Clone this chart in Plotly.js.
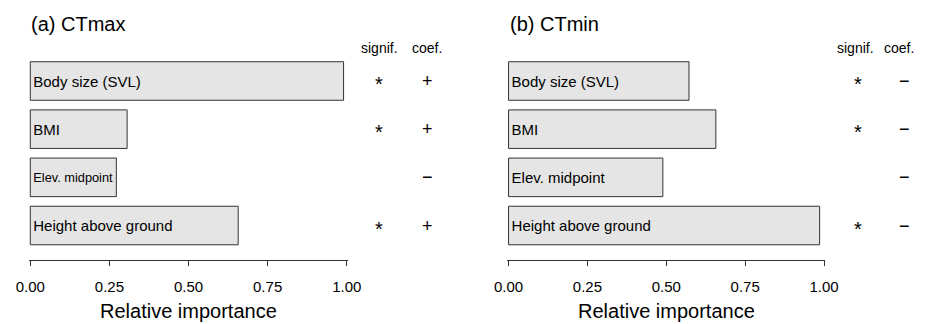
<!DOCTYPE html>
<html>
<head>
<meta charset="utf-8">
<script src="https://cdn.plot.ly/plotly-3.0.1.min.js"></script>
<style>html,body{margin:0;padding:0;background:#fff;}#chart{width:930px;height:324px;}</style>
</head>
<body>
<div id="chart"></div>
<script>
const categories = ["Body size (SVL)", "BMI", "Elev. midpoint", "Height above ground"];
const ctmaxImportance = [0.99, 0.306, 0.272, 0.657];
const ctminImportance = [0.572, 0.657, 0.489, 0.986];
const ctmaxSignif = ["*", "*", "", "*"];
const ctmaxCoef = ["+", "+", "\u2212", "+"];
const ctminSignif = ["*", "*", "", "*"];
const ctminCoef = ["\u2212", "\u2212", "\u2212", "\u2212"];
const tickVals = [0, 0.25, 0.5, 0.75, 1];
const tickText = ["0.00", "0.25", "0.50", "0.75", "1.00"];
const panelTitles = ["(a) CTmax", "(b) CTmin"];
const headers = ["signif.", "coef."];
const xTitle = "Relative importance";

const FONT = "Liberation Sans, Arial, Helvetica, sans-serif";
const barStyle = {
  type: "bar", orientation: "h", width: 0.8,
  marker: {color: "#e5e5e5", line: {color: "#333333", width: 1}},
  textposition: "inside", insidetextanchor: "start", textangle: 0,
  insidetextfont: {family: FONT, size: 15, color: "#000"},
  hoverinfo: "none", showlegend: false
};

const traces = [
  Object.assign({}, barStyle, {x: ctmaxImportance, y: categories, text: categories, xaxis: "x", yaxis: "y"}),
  Object.assign({}, barStyle, {x: ctminImportance, y: categories, text: categories, xaxis: "x2", yaxis: "y2"})
];

const W = 930, H = 324;
const axisY = 260;
const spacing = 48.17, firstCenter = 81;
const yTop = -firstCenter / spacing;
const yBottom = yTop + axisY / spacing;
const yDomain = [1 - axisY / H, 1];

function xAxis(domain, anchor) {
  return {
    domain: domain, anchor: anchor, range: [-0.004, 1.004], fixedrange: true,
    showline: true, linecolor: "#333", linewidth: 1,
    ticks: "outside", ticklen: 5, tickcolor: "#333", tickwidth: 1,
    tickvals: tickVals, ticktext: tickText, ticklabelstandoff: 8,
    tickfont: {family: FONT, size: 15, color: "#000"},
    showgrid: false, zeroline: false
  };
}
function yAxis(anchor) {
  return {
    domain: yDomain, anchor: anchor, type: "category", range: [yBottom, yTop],
    showline: false, showticklabels: false, ticks: "", showgrid: false, zeroline: false, fixedrange: true
  };
}

const leftDom = [29 / W, 348 / W];
const rightDom = [507.3 / W, 825.3 / W];

const annotations = [];
function panelAnn(title, titleX, dom, hdrX, signifX, coefX, signif, coef, yref) {
  annotations.push({xref: "paper", yref: "paper", x: titleX, y: 1 - 24 / H, xanchor: "left", yanchor: "middle",
    text: title, showarrow: false, font: {family: FONT, size: 20, color: "#000"}});
  annotations.push({xref: "paper", yref: "paper", x: (dom[0] + dom[1]) / 2, y: 1 - 311 / H, xanchor: "center", yanchor: "middle",
    text: xTitle, showarrow: false, font: {family: FONT, size: 20, color: "#000"}});
  annotations.push({xref: "paper", yref: "paper", x: hdrX[0], y: 1 - 48 / H, xanchor: "center", yanchor: "middle",
    text: headers[0], showarrow: false, font: {family: FONT, size: 14, color: "#000"}});
  annotations.push({xref: "paper", yref: "paper", x: hdrX[1], y: 1 - 48 / H, xanchor: "center", yanchor: "middle",
    text: headers[1], showarrow: false, font: {family: FONT, size: 14, color: "#000"}});
  categories.forEach((c, i) => {
    if (signif[i]) annotations.push({xref: "paper", yref: yref, x: signifX, y: c, xanchor: "center", yanchor: "middle",
      text: signif[i], showarrow: false, yshift: -3, font: {family: FONT, size: 20, color: "#000"}});
    if (coef[i]) annotations.push({xref: "paper", yref: yref, x: coefX, y: c, xanchor: "center", yanchor: "middle",
      text: coef[i], showarrow: false, font: {family: FONT, size: 18, color: "#000"}});
  });
}
panelAnn(panelTitles[0], 29 / W, leftDom, [379 / W, 427 / W], 379 / W, 427 / W, ctmaxSignif, ctmaxCoef, "y");
panelAnn(panelTitles[1], 507.5 / W, rightDom, [855 / W, 899 / W], 857.7 / W, 904 / W, ctminSignif, ctminCoef, "y2");

const layout = {
  width: W, height: H, margin: {l: 0, r: 0, t: 0, b: 0},
  paper_bgcolor: "#fff", plot_bgcolor: "#fff",
  font: {family: FONT, color: "#000"},
  xaxis: xAxis(leftDom, "y"), yaxis: yAxis("x"),
  xaxis2: xAxis(rightDom, "y2"), yaxis2: yAxis("x2"),
  annotations: annotations, showlegend: false, bargap: 0.2
};

Plotly.newPlot("chart", traces, layout, {displayModeBar: false, staticPlot: true});
</script>
</body>
</html>
